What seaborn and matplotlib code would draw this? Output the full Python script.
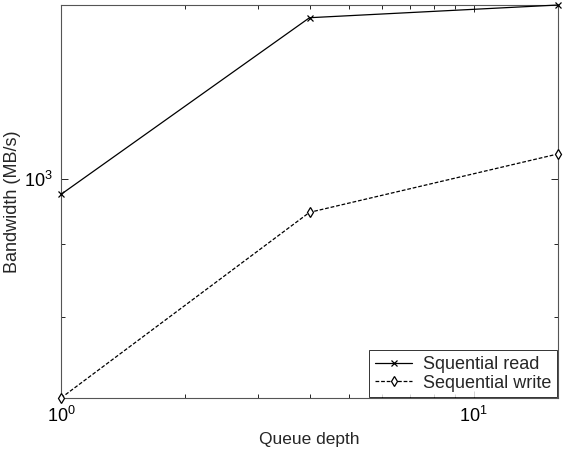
import matplotlib
matplotlib.use('Agg')
import matplotlib.pyplot as plt
import matplotlib.ticker as mticker
import seaborn as sns

# values
queue_depth = [1, 4, 16]
seq_read = [976, 1299, 1326]
seq_write = [702, 948, 1042]
series_names = ['Squential read', 'Sequential write']

sns.set_style('ticks')
plt.rcParams['font.family'] = ['Liberation Sans', 'DejaVu Sans']
plt.rcParams['mathtext.fontset'] = 'custom'
plt.rcParams['mathtext.rm'] = 'Liberation Sans'

fig = plt.figure(figsize=(5.63, 4.49), dpi=100)
ax = fig.add_axes([61 / 563, 1 - 398 / 449, 497 / 563, 393 / 449])

# read: solid line, x markers
sns.lineplot(x=queue_depth, y=seq_read, color='black', marker='x',
             linewidth=0.9, markersize=5, markeredgecolor='black',
             markeredgewidth=0.9, label=series_names[0], ax=ax,
             clip_on=False, zorder=3)
# write: dashed line, open diamonds
sns.lineplot(x=queue_depth, y=seq_write, color='black', marker='d',
             linestyle=(0, (3, 1.5)), linewidth=0.9, markersize=5.5,
             markerfacecolor='white', markeredgecolor='black',
             markeredgewidth=0.9, label=series_names[1], ax=ax,
             clip_on=False, zorder=3)

ax.set_xscale('log')
ax.set_yscale('log')
ax.set_xlim(1, 16)
ax.set_ylim(min(seq_write), max(seq_read))

ax.yaxis.set_major_locator(mticker.LogLocator(base=10))
ax.yaxis.set_minor_locator(mticker.LogLocator(base=10, subs=range(2, 10)))
ax.yaxis.set_minor_formatter(mticker.NullFormatter())
ax.xaxis.set_minor_formatter(mticker.NullFormatter())

ax.tick_params(which='both', direction='in', top=True, right=True,
               labelsize=13, colors='black')
ax.tick_params(which='major', length=5, width=0.6, pad=6)
ax.tick_params(which='minor', length=3, width=0.6)
for sp in ax.spines.values():
    sp.set_color('#555555')
    sp.set_linewidth(0.8)

ax.set_xlabel('Queue depth', fontsize=12.5, labelpad=4)
ax.set_ylabel('Bandwidth (MB/s)', fontsize=13, labelpad=2)

leg = ax.legend(loc='lower right', fontsize=13, frameon=True, fancybox=False,
                borderaxespad=0.05, handlelength=2.1, handletextpad=0.6,
                numpoints=1, borderpad=0.3, labelspacing=0.1)
leg.get_frame().set_edgecolor('black')
leg.get_frame().set_linewidth(0.7)
leg.set_zorder(5)

fig.savefig('out.png', dpi=100)
